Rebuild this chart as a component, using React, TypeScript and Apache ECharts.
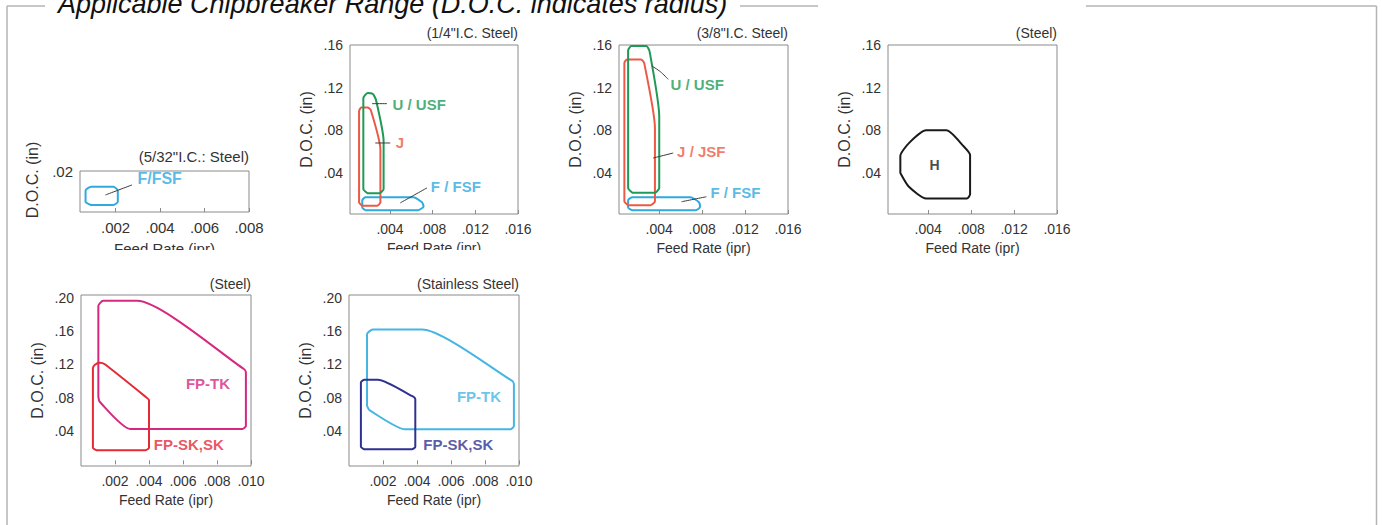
import React, { useEffect, useRef } from 'react';
import * as echarts from 'echarts';

const FONT = '"Liberation Sans", Arial, Helvetica, sans-serif';
const TEXT = '#333333';
const AXIS = '#8a8a8a';
const LEADER = '#3a3a3a';

// ---- tick values ----
const xTicks532 = [0.002, 0.004, 0.006, 0.008];
const yTicks532 = [0.02];
const xTicksIC = [0.004, 0.008, 0.012, 0.016];
const yTicksIC = [0.04, 0.08, 0.12, 0.16];
const xTicksFP = [0.002, 0.004, 0.006, 0.008, 0.01];
const yTicksFP = [0.04, 0.08, 0.12, 0.16, 0.2];

// ---- panel titles ----
const panelTitles = [
  '(5/32"I.C.: Steel)',
  '(1/4"I.C. Steel)',
  '(3/8"I.C. Steel)',
  '(Steel)',
  '(Steel)',
  '(Stainless Steel)',
];
const mainTitle = 'Applicable Chipbreaker Range (D.O.C. indicates radius)';
const yName = 'D.O.C. (in)';
const xName = 'Feed Rate (ipr)';

// ---- region outlines [feed (ipr), D.O.C. (in)] ----
const ic532F = [[0.0009, 0.0034], [0.0019, 0.0034], [0.0021, 0.005], [0.0021, 0.0105], [0.0019, 0.0123], [0.0009, 0.0123], [0.00065, 0.0105], [0.00065, 0.005], [0.0009, 0.0034]];

const ic14U = [[0.0019, 0.021], [0.003, 0.021], [0.0034, 0.025], [0.0034, 0.07], [0.0027, 0.108], [0.0024, 0.114], [0.0019, 0.115], [0.0015, 0.11], [0.0015, 0.025], [0.0019, 0.021]];
const ic14J = [[0.0014, 0.0092], [0.0028, 0.0092], [0.0031, 0.0125], [0.0031, 0.062], [0.0022, 0.099], [0.0019, 0.1015], [0.0013, 0.1015], [0.0011, 0.098], [0.0011, 0.0125], [0.0014, 0.0092]];
const ic14F = [[0.0017, 0.005], [0.0066, 0.005], [0.00715, 0.0085], [0.007, 0.0125], [0.0062, 0.0172], [0.0017, 0.0172], [0.0014, 0.0145], [0.0014, 0.0077], [0.0017, 0.005]];

const ic38U = [[0.0015, 0.0215], [0.0036, 0.0215], [0.004, 0.026], [0.004, 0.093], [0.0031, 0.154], [0.0028, 0.159], [0.0014, 0.159], [0.0011, 0.155], [0.0011, 0.026], [0.0015, 0.0215]];
const ic38J = [[0.0011, 0.0098], [0.0032, 0.0098], [0.0036, 0.0135], [0.0036, 0.082], [0.0026, 0.143], [0.0023, 0.1465], [0.001, 0.1465], [0.00075, 0.143], [0.00075, 0.0135], [0.0011, 0.0098]];
const ic38F = [[0.0015, 0.005], [0.0074, 0.005], [0.0078, 0.008], [0.0077, 0.0125], [0.0069, 0.0172], [0.0015, 0.0172], [0.0011, 0.0145], [0.0011, 0.0077], [0.0015, 0.005]];

const steelH = [[0.0014, 0.04], [0.0014, 0.056], [0.0022, 0.068], [0.0038, 0.08], [0.0057, 0.08], [0.0073, 0.065], [0.0079, 0.057], [0.0079, 0.02], [0.0076, 0.016], [0.0038, 0.016], [0.0022, 0.027], [0.0014, 0.04]];

const steelTK = [[0.00102, 0.081], [0.00102, 0.19], [0.0013, 0.196], [0.0033, 0.196], [0.0096, 0.114], [0.0097, 0.11], [0.0097, 0.046], [0.0095, 0.0425], [0.0029, 0.0425], [0.0011, 0.075], [0.00102, 0.081]];
const steelSK = [[0.0009, 0.017], [0.0038, 0.017], [0.004, 0.02], [0.004, 0.077], [0.0038, 0.081], [0.0014, 0.12], [0.0011, 0.1217], [0.0008, 0.119], [0.0007, 0.115], [0.0007, 0.02], [0.0009, 0.017]];

const stainlessTK = [[0.00106, 0.07], [0.00106, 0.156], [0.0014, 0.1615], [0.0043, 0.1615], [0.0096, 0.1], [0.0097, 0.096], [0.0097, 0.046], [0.0095, 0.042], [0.0033, 0.042], [0.0012, 0.065], [0.00106, 0.07]];
const stainlessSK = [[0.0009, 0.018], [0.0037, 0.018], [0.0039, 0.021], [0.0039, 0.078], [0.0037, 0.082], [0.0017, 0.1015], [0.0009, 0.1015], [0.0007, 0.098], [0.0007, 0.021], [0.0009, 0.018]];

// ---- leader lines ----
const lead532F = [[0.00154, 0.0083], [0.00274, 0.0132]];
const lead14U = [[0.00231, 0.105], [0.00372, 0.105]];
const lead14J = [[0.00262, 0.0681], [0.00403, 0.0681]];
const lead14F = [[0.00496, 0.0119], [0.00747, 0.026]];
const lead38U = [[0.0033, 0.1404], [0.0041, 0.135], [0.00484, 0.1278]];
const lead38J = [[0.00344, 0.054], [0.0053, 0.0587]];
const lead38F = [[0.00608, 0.013], [0.0084, 0.0177]];

// ---- region names ----
const names532 = ['F/FSF'];
const names14 = ['U / USF', 'J', 'F / FSF'];
const names38 = ['U / USF', 'J / JSF', 'F / FSF'];
const namesH = ['H'];
const namesFP = ['FP-TK', 'FP-SK,SK'];

const C_GREEN = '#1e9a55';
const C_ORANGE = '#ec5a47';
const C_BLUE = '#2fa9de';
const C_BLACK = '#1a1a1a';
const C_MAGENTA = '#d6287f';
const C_RED = '#e52a36';
const C_LBLUE = '#45b5e3';
const C_NAVY = '#2f3290';

const fmtX = (v: number) => v.toFixed(3).replace(/^0/, '');
const fmtY = (v: number) => v.toFixed(2).replace(/^0/, '');

type Panel = {
  left: number; top: number; width: number; height: number;
  xMin: number; xMax: number; yMin: number; yMax: number;
  xt: number[]; yt: number[]; fs: number; yNameShow: boolean;
};

const panels: Panel[] = [
  { left: 80, top: 171, width: 169, height: 41, xMin: 0.0004, xMax: 0.008, yMin: 0, yMax: 0.02, xt: xTicks532, yt: yTicks532, fs: 15, yNameShow: false },
  { left: 350, top: 45, width: 168, height: 169, xMin: 0.00025, xMax: 0.016, yMin: 0.0015, yMax: 0.16, xt: xTicksIC, yt: yTicksIC, fs: 14, yNameShow: true },
  { left: 619, top: 45, width: 169, height: 169, xMin: 0.00025, xMax: 0.016, yMin: 0.0015, yMax: 0.16, xt: xTicksIC, yt: yTicksIC, fs: 14, yNameShow: true },
  { left: 888, top: 45, width: 169, height: 169, xMin: 0.00025, xMax: 0.016, yMin: 0.0015, yMax: 0.16, xt: xTicksIC, yt: yTicksIC, fs: 14, yNameShow: true },
  { left: 81, top: 295, width: 170, height: 171, xMin: 0, xMax: 0.01, yMin: -0.002, yMax: 0.203, xt: xTicksFP, yt: yTicksFP, fs: 14, yNameShow: true },
  { left: 349, top: 295, width: 170, height: 171, xMin: 0, xMax: 0.01, yMin: -0.002, yMax: 0.203, xt: xTicksFP, yt: yTicksFP, fs: 14, yNameShow: true },
];

const W = 1382;
const H = 525;

function outline(idx: number, data: number[][], color: string) {
  return {
    type: 'line', xAxisIndex: idx, yAxisIndex: idx, data, symbol: 'none', showSymbol: false,
    smooth: 0.2, silent: true, z: 3, lineStyle: { color, width: 2, join: 'round', cap: 'round' },
  };
}
function leader(idx: number, data: number[][]) {
  return {
    type: 'line', xAxisIndex: idx, yAxisIndex: idx, data, symbol: 'none', showSymbol: false,
    smooth: 0.3, silent: true, z: 4, lineStyle: { color: LEADER, width: 1 },
  };
}
function tag(idx: number, at: number[], text: string, color: string, size: number, position = 'right') {
  return {
    type: 'scatter', xAxisIndex: idx, yAxisIndex: idx, symbolSize: 1, silent: true, z: 5,
    itemStyle: { color: 'rgba(0,0,0,0)' },
    data: [{ value: at, name: text }],
    label: { show: true, position, distance: 0, formatter: '{b}', color, fontSize: size, fontWeight: 'bold', fontFamily: FONT },
  };
}

export default function App() {
  const ref = useRef<HTMLDivElement>(null);
  useEffect(() => {
    if (!ref.current) return;
    const chart = echarts.init(ref.current, undefined, { renderer: 'svg' });

    const grid = panels.map((p) => ({
      left: p.left, top: p.top, width: p.width, height: p.height,
      show: true, borderColor: AXIS, borderWidth: 1, backgroundColor: 'transparent', containLabel: false,
    }));
    const xAxis = panels.map((p, i) => ({
      type: 'value', gridIndex: i, min: p.xMin, max: p.xMax,
      name: xName, nameLocation: 'middle', nameGap: i === 0 ? 29 : 27,
      nameTextStyle: { fontSize: p.fs, color: TEXT, fontFamily: FONT },
      axisLine: { show: false },
      axisTick: { show: true, inside: true, length: 4, customValues: p.xt, lineStyle: { color: AXIS } },
      axisLabel: { customValues: p.xt, formatter: fmtX, margin: 8, fontSize: p.fs, color: TEXT, fontFamily: FONT },
      splitLine: { show: false },
    }));
    const yAxis = panels.map((p, i) => ({
      type: 'value', gridIndex: i, min: p.yMin, max: p.yMax,
      name: p.yNameShow ? yName : '', nameLocation: 'middle', nameGap: 36,
      nameTextStyle: { fontSize: 16, color: TEXT, fontFamily: FONT },
      axisLine: { show: false },
      axisTick: { show: false },
      axisLabel: { customValues: p.yt, formatter: fmtY, margin: 7, fontSize: p.fs, color: TEXT, fontFamily: FONT },
      splitLine: { show: false },
    }));

    const titleY = [157, 34, 34, 34, 285, 285];
    const title = panels.map((p, i) => ({
      text: panelTitles[i], right: W - (p.left + p.width), top: titleY[i] - p.fs / 2 - 1, padding: 0,
      textStyle: { fontSize: p.fs, fontWeight: 'normal', color: TEXT, fontFamily: FONT },
    }));

    const series: any[] = [
      outline(0, ic532F, C_BLUE),
      leader(0, lead532F),
      tag(0, [0.00296, 0.0164], names532[0], C_BLUE, 16),

      outline(1, ic14F, C_BLUE),
      outline(1, ic14J, C_ORANGE),
      outline(1, ic14U, C_GREEN),
      leader(1, lead14U), leader(1, lead14J), leader(1, lead14F),
      tag(1, [0.00419, 0.104], names14[0], C_GREEN, 15),
      tag(1, [0.0045, 0.0681], names14[1], C_ORANGE, 15),
      tag(1, [0.00778, 0.0275], names14[2], C_BLUE, 15),

      outline(2, ic38F, C_BLUE),
      outline(2, ic38J, C_ORANGE),
      outline(2, ic38U, C_GREEN),
      leader(2, lead38U), leader(2, lead38J), leader(2, lead38F),
      tag(2, [0.005, 0.123], names38[0], C_GREEN, 15),
      tag(2, [0.00562, 0.0602], names38[1], C_ORANGE, 15),
      tag(2, [0.00872, 0.0212], names38[2], C_BLUE, 15),

      outline(3, steelH, C_BLACK),
      tag(3, [0.0046, 0.0474], namesH[0], C_BLACK, 14, 'inside'),

      outline(4, steelTK, C_MAGENTA),
      outline(4, steelSK, C_RED),
      tag(4, [0.00614, 0.0969], namesFP[0], C_MAGENTA, 15),
      tag(4, [0.00425, 0.024], namesFP[1], C_RED, 15),

      outline(5, stainlessTK, C_LBLUE),
      outline(5, stainlessSK, C_NAVY),
      tag(5, [0.00632, 0.0814], namesFP[0], C_LBLUE, 15),
      tag(5, [0.00434, 0.024], namesFP[1], C_NAVY, 15),
    ];

    const frame = { stroke: '#b4b4b4', lineWidth: 1.5 };
    const graphic: any[] = [
      { type: 'line', shape: { x1: 7, y1: 6, x2: 45, y2: 6 }, style: frame, z: 50 },
      { type: 'line', shape: { x1: 740, y1: 6, x2: 818, y2: 6 }, style: frame, z: 50 },
      { type: 'line', shape: { x1: 1086, y1: 6, x2: 1376.5, y2: 6 }, style: frame, z: 50 },
      { type: 'line', shape: { x1: 7, y1: 6, x2: 7, y2: H }, style: frame, z: 50 },
      { type: 'line', shape: { x1: 1376.5, y1: 6, x2: 1376.5, y2: H }, style: frame, z: 50 },
      {
        type: 'text', x: 58, y: 17, z: 50,
        style: { text: mainTitle, fontSize: 27, fontStyle: 'italic', fontFamily: FONT, fill: '#111', textAlign: 'left', textVerticalAlign: 'bottom' },
      },
      {
        type: 'text', x: 32, y: 180, rotation: Math.PI / 2, z: 50,
        style: { text: yName, fontSize: 16, fontFamily: FONT, fill: TEXT, textAlign: 'center', textVerticalAlign: 'middle' },
      },
      { type: 'rect', shape: { x: 60, y: 250, width: 490, height: 16 }, style: { fill: '#ffffff' }, z: 100 },
    ];

    chart.setOption({
      animation: false,
      backgroundColor: '#ffffff',
      textStyle: { fontFamily: FONT },
      title, grid, xAxis, yAxis, series, graphic,
    });
    return () => chart.dispose();
  }, []);

  return <div ref={ref} style={{ position: 'fixed', left: 0, top: 0, width: W, height: H }} />;
}
